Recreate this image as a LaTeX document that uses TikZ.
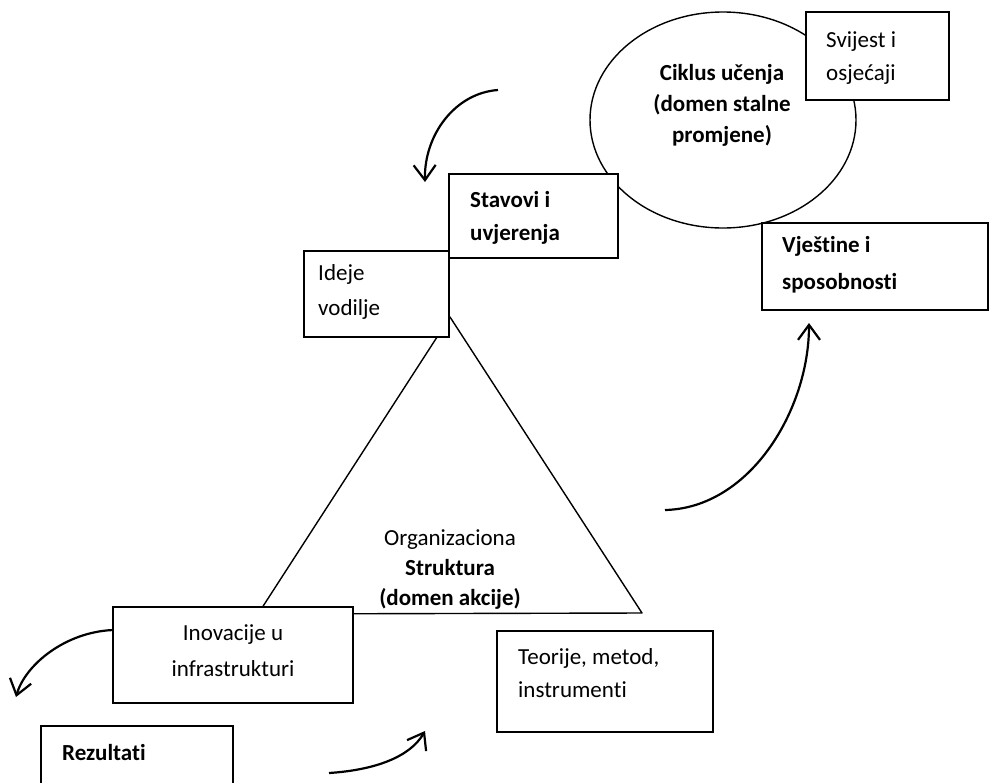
\documentclass[tikz,border=0pt]{standalone}
\usepackage{fontspec}
\setmainfont{Carlito}[Ligatures=NoCommon]
\usetikzlibrary{arrows.meta,shapes.geometric}
\tikzset{
  box/.style={draw, line width=1.8pt, fill=white, inner sep=0pt},
  shape line/.style={draw, line width=1.4pt},
  flow/.style={line width=2.2pt, -{Straight Barb[length=15pt,width=22pt,line width=2.2pt]}},
  lbl/.style={inner sep=0pt, align=left, font=\fontsize{23}{34}\selectfont},
  clbl/.style={inner sep=0pt, align=center, font=\fontsize{23}{31}\selectfont},
}
\begin{document}
\begin{tikzpicture}[x=1pt,y=-1pt]
\clip (0,0) rectangle (990,782);
\fill[white] (0,0) rectangle (990,782);

% action domain: triangle behind the boxes
\coordinate (apex) at (450,317);
\coordinate (bl) at (258,614);
\coordinate (br) at (642,613);
\draw[shape line, line join=round] (apex) -- (br) -- (bl) -- cycle;

% learning cycle
\node[shape line, ellipse, minimum width=266pt, minimum height=216pt, inner sep=0pt] (cycle) at (723,120) {};
\node[clbl, font=\fontsize{23}{31}\selectfont\bfseries] (cyclet) at (722,105) {Ciklus učenja\\(domen stalne\\promjene)};

% boxes
\path[box] (806,12) rectangle (949,100) coordinate (svij);
\node[lbl, anchor=west, font=\fontsize{23}{33}\selectfont] (svijt) at (826,58) {Svijest i\\osjećaji};

\path[box] (449,174) rectangle (618,258) coordinate (stav);
\node[lbl, anchor=west, font=\fontsize{23}{33}\selectfont\bfseries] (stavt) at (470,218) {Stavovi i\\uvjerenja};

\path[box] (304,251) rectangle (449,337) coordinate (idej);
\node[lbl, anchor=west, font=\fontsize{23}{35}\selectfont] (idejt) at (318,292) {Ideje\\vodilje};

\path[box] (762,223) rectangle (988,310) coordinate (vjes);
\node[lbl, anchor=west, font=\fontsize{23}{37}\selectfont\bfseries] (vjest) at (782,265) {Vještine i\\sposobnosti};

\path[box] (113,607) rectangle (353,703) coordinate (inov);
\node[clbl, font=\fontsize{23}{36}\selectfont] (inovt) at (233,651) {Inovacije u\\infrastrukturi};

\path[box] (497,631) rectangle (713,732) coordinate (teor);
\node[lbl, anchor=west, font=\fontsize{23}{33}\selectfont] (teort) at (518,673) {Teorije, metod,\\instrumenti};

\path[box] (41,726) rectangle (233,800) coordinate (rez);
\node[lbl, anchor=west, font=\fontsize{23}{33}\selectfont\bfseries] (rezt) at (62,753) {Rezultati};

% organisational structure label
\node[clbl, font=\fontsize{23}{30}\selectfont] (orgt) at (450,570) {Organizaciona\\\textbf{Struktura}\\\textbf{(domen akcije)}};

% curved arrows
\coordinate (a1s) at (498,90);  \coordinate (a1e) at (425,182);
\coordinate (a2s) at (665,510); \coordinate (a2e) at (809,323);
\coordinate (a3s) at (113,630); \coordinate (a3e) at (16,697);
\coordinate (a4s) at (329,773); \coordinate (a4e) at (425,731);
\draw[flow] (a1s) .. controls (455,93) and (424,135) .. (a1e);
\draw[flow] (a2s) .. controls (750,508) and (809,410) .. (a2e);
\draw[flow] (a3s) .. controls (65,632) and (25,665) .. (a3e);
\draw[flow] (a4s) .. controls (375,770) and (410,757) .. (a4e);
\end{tikzpicture}
\end{document}
